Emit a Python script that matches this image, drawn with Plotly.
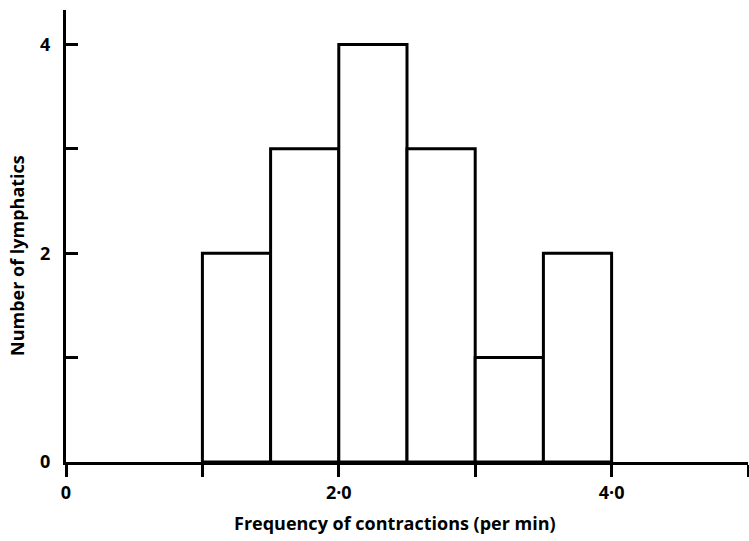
import plotly.graph_objects as go

bin_centers = [1.25, 1.75, 2.25, 2.75, 3.25, 3.75]
counts = [2, 3, 4, 3, 1, 2]
bin_width = 0.5

x_tickvals = [0, 1, 2, 3, 4, 5]
x_ticktext = ["0", "", "2·0", "", "4·0", ""]
y_tickvals = [0, 1, 2, 3, 4]
y_ticktext = ["0", "", "2", "", "4"]

font_family = "'Open Sans', Lato, sans-serif"
tick_font = dict(family=font_family, size=18, weight="bold", color="black")
title_font = dict(family=font_family, size=18, weight="bold", color="black")

fig = go.Figure(go.Bar(
    x=bin_centers, y=counts, width=bin_width,
    marker=dict(color="white", line=dict(color="black", width=3)),
))

fig.update_layout(
    width=749, height=541,
    margin=dict(l=66, r=1, t=10, b=79),
    paper_bgcolor="white", plot_bgcolor="white",
    showlegend=False,
    font=dict(family=font_family, size=16, color="black"),
    xaxis=dict(
        range=[0, 5], tickvals=x_tickvals, ticktext=x_ticktext,
        ticks="outside", ticklen=12, tickwidth=3, tickcolor="black",
        showline=True, linewidth=3, linecolor="black",
        showgrid=False, zeroline=False,
        tickfont=tick_font,
    ),
    yaxis=dict(
        range=[0, 4.33], tickvals=y_tickvals, ticktext=y_ticktext,
        ticks="inside", ticklen=12, tickwidth=3, tickcolor="black",
        showline=True, linewidth=3, linecolor="black",
        showgrid=False, zeroline=False,
        tickfont=tick_font, ticklabelstandoff=9,
    ),
    annotations=[
        dict(text="Frequency of contractions (per min)", xref="paper", yref="paper",
             x=(395 - 66) / 682, y=-(523 - 462) / 452, xanchor="center", yanchor="middle",
             showarrow=False, font=title_font),
        dict(text="Number of lymphatics", xref="paper", yref="paper",
             x=-(66 - 17) / 682, y=(462 - 256) / 452, xanchor="center", yanchor="middle",
             textangle=-90, showarrow=False, font=title_font),
    ],
)

fig.write_html("out.html")
